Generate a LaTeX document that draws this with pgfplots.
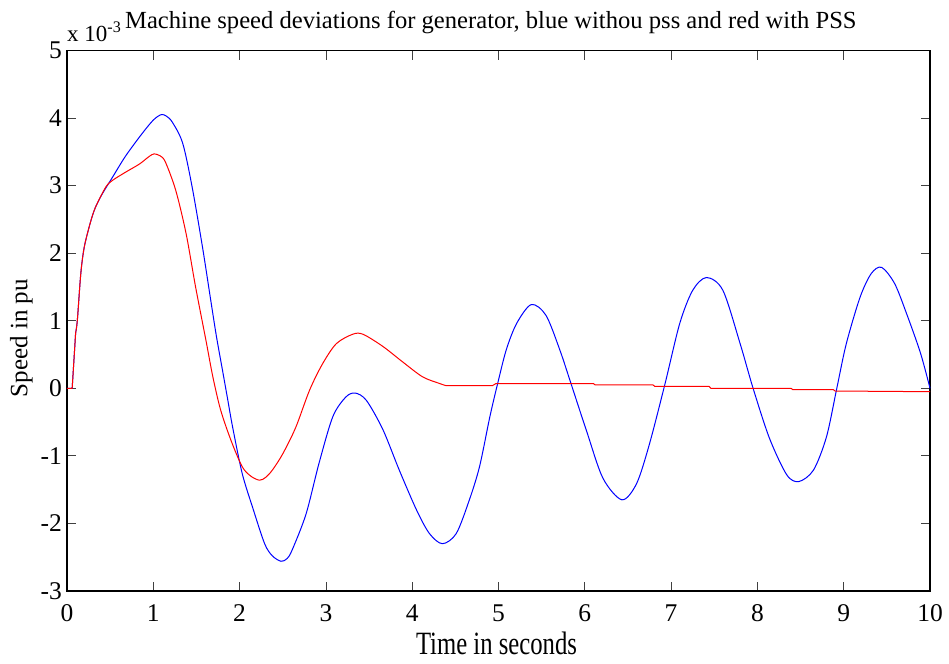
\documentclass[border=0pt]{standalone}
\usepackage{fontspec}
\setmainfont{Liberation Serif}
\newfontfamily\condfont{Liberation Serif}[FakeStretch=0.76]
\usepackage{pgfplots}
\pgfplotsset{compat=1.18}
\begin{document}
\begin{tikzpicture}
\begin{axis}[
  at={(0,0)}, anchor=south west,
  scale only axis, width=863pt, height=540.5pt,
  xmin=0, xmax=10, ymin=-3, ymax=5,
  xtick={0,1,...,10}, ytick={-3,-2,...,5},
  /pgf/number format/assume math mode=true,
  tick align=inside, major tick length=9pt,
  xtick pos=both, ytick pos=both,
  every tick/.style={black!75, line width=0.8pt},
  axis line style={black, line width=1.3pt},
  ticklabel style={font=\fontsize{25.5}{30}\selectfont},
  xticklabel style={anchor=base, yshift=-30.7pt, inner sep=0pt},
  yticklabel style={anchor=east, xshift=-5pt, inner sep=0pt},
  xlabel={Time in seconds},
  xlabel style={font=\fontsize{32.5}{36}\condfont, at={(axis description cs:0.4977,-0.1184)}, anchor=base},
  ylabel={Speed in pu},
  ylabel style={font=\fontsize{25}{28}\selectfont, at={(axis description cs:-0.046,0.468)}, anchor=base},
  clip=false,
]
% blue: without PSS
\addplot[blue, line width=1pt] coordinates {(0,0) (0.06,0) (0.10,0.82)};
\addplot[blue, line width=1pt, smooth] coordinates {
(0.10,0.82) (0.12,1.01) (0.16,1.70) (0.20,2.09) (0.27,2.45) (0.33,2.68) (0.41,2.88)
(0.53,3.13) (0.68,3.44) (0.87,3.77) (1.00,3.97) (1.09,4.05) (1.15,4.03) (1.22,3.94)
(1.34,3.63) (1.45,2.98) (1.57,2.09) (1.66,1.35) (1.73,0.78) (1.80,0.28) (1.86,-0.15)
(1.92,-0.58) (2.03,-1.26) (2.15,-1.76) (2.29,-2.30) (2.38,-2.48) (2.48,-2.56) (2.55,-2.52)
(2.61,-2.39) (2.77,-1.86) (2.92,-1.11) (3.08,-0.42) (3.23,-0.13) (3.34,-0.07) (3.47,-0.18)
(3.66,-0.61) (3.85,-1.21) (4.05,-1.80) (4.20,-2.15) (4.35,-2.30) (4.51,-2.15) (4.66,-1.66)
(4.78,-1.16) (4.90,-0.42) (4.99,0.07) (5.09,0.57) (5.21,0.96) (5.38,1.24) (5.55,1.08)
(5.71,0.57) (5.84,0.07) (6.02,-0.63) (6.21,-1.33) (6.43,-1.65) (6.60,-1.41) (6.75,-0.82)
(6.93,0.07) (7.10,0.96) (7.25,1.45) (7.41,1.64) (7.60,1.45) (7.80,0.66) (7.95,0.00)
(8.14,-0.74) (8.34,-1.28) (8.48,-1.38) (8.65,-1.21) (8.80,-0.72) (8.92,0.00) (9.03,0.66)
(9.19,1.35) (9.32,1.70) (9.44,1.79) (9.59,1.55) (9.73,1.10) (9.89,0.52) (10.0,0.00)};
% red: with PSS
\addplot[red, line width=1pt] coordinates {(0,0) (0.06,0) (0.10,0.82)};
\addplot[red, line width=1pt, smooth] coordinates {
(0.10,0.82) (0.12,1.01) (0.16,1.70) (0.20,2.09) (0.27,2.45) (0.33,2.68) (0.45,2.98)
(0.53,3.08) (0.68,3.20) (0.84,3.32) (0.95,3.43) (1.01,3.47) (1.08,3.44) (1.14,3.35)
(1.26,2.93) (1.38,2.29) (1.49,1.50) (1.61,0.71) (1.69,0.17) (1.78,-0.32)
(1.90,-0.77) (2.03,-1.16) (2.13,-1.30) (2.23,-1.36) (2.30,-1.32) (2.38,-1.21) (2.50,-0.97)
(2.65,-0.58) (2.81,-0.03) (2.96,0.36) (3.12,0.66) (3.31,0.80) (3.43,0.80) (3.66,0.62)
(3.89,0.39) (4.12,0.17) (4.32,0.07) (4.39,0.04)};
\addplot[red, line width=1pt] coordinates {
(4.39,0.04) (4.93,0.04) (4.97,0.07) (6.10,0.07) (6.12,0.05) (6.79,0.05) (6.81,0.03)
(7.44,0.03) (7.46,0.00) (8.39,0.00) (8.41,-0.02) (8.88,-0.02) (8.90,-0.04) (10.0,-0.05)};
\node[anchor=base west, inner sep=0pt, font=\fontsize{24.6}{30}\selectfont] at (rel axis cs:0.0672,1.0411)
  {Machine speed deviations for generator, blue withou pss and red with PSS};
\node[anchor=base west, inner sep=0pt, font=\fontsize{23}{28}\selectfont] at (rel axis cs:0,1.0163)
  {x 10\textsuperscript{-3}};
\end{axis}
\path[use as bounding box] (-67pt,-72pt) rectangle (882pt,591pt);
\end{tikzpicture}
\end{document}
